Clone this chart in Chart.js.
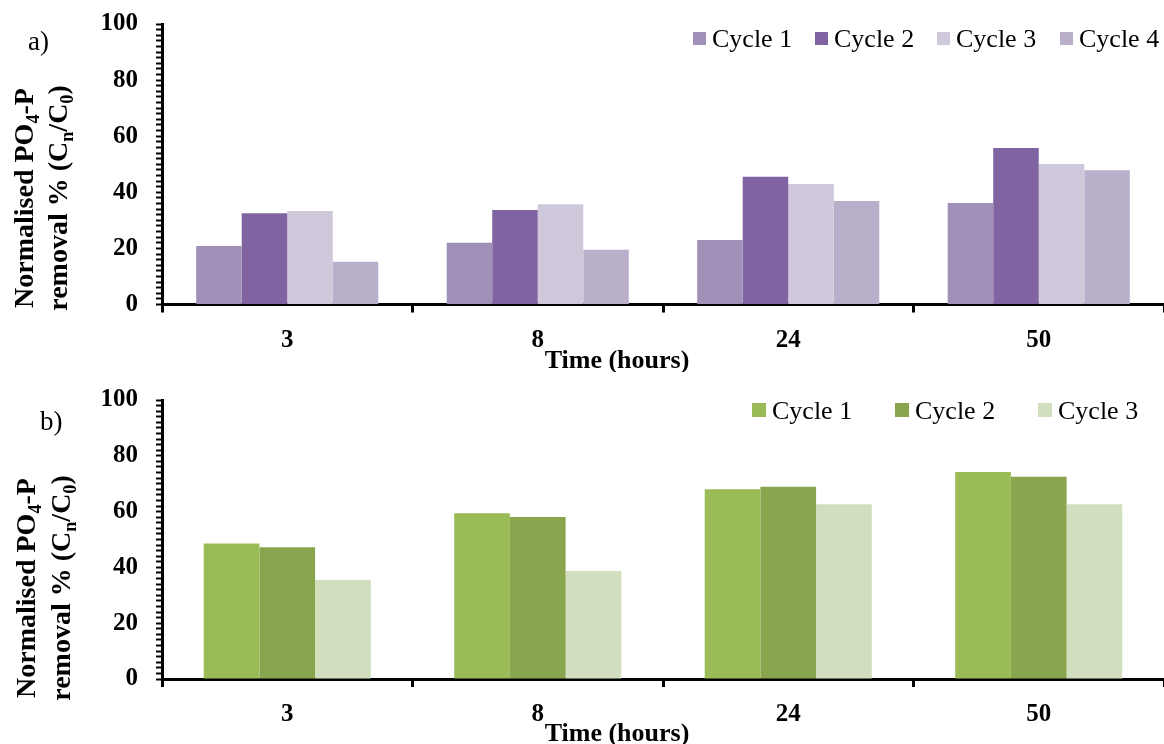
<!DOCTYPE html>
<html>
<head>
<meta charset="utf-8">
<script src="https://cdn.jsdelivr.net/npm/chart.js@4.4.1/dist/chart.umd.min.js"></script>
<style>
  html, body { margin: 0; padding: 0; background: #fff; }
  .panel { position: absolute; left: 0; width: 1164px; height: 372px; }
  #panelA { top: 0; }
  #panelB { top: 372px; }
</style>
</head>
<body>
<div class="panel" id="panelA"><canvas id="chartA" width="1164" height="372"></canvas></div>
<div class="panel" id="panelB"><canvas id="chartB" width="1164" height="372"></canvas></div>
<script>
// data
const hours = ["3", "8", "24", "50"];
const cycleLabelsA = ["Cycle 1", "Cycle 2", "Cycle 3", "Cycle 4"];
const cycleLabelsB = ["Cycle 1", "Cycle 2", "Cycle 3"];

const removalA1 = [20.9, 22.0, 23.0, 36.2];
const removalA2 = [32.5, 33.7, 45.5, 55.8];
const removalA3 = [33.3, 35.7, 43.0, 50.1];
const removalA4 = [15.2, 19.5, 36.9, 47.9];

const removalB1 = [48.6, 59.4, 68.0, 74.2];
const removalB2 = [47.2, 58.1, 68.9, 72.5];
const removalB3 = [35.5, 38.7, 62.6, 62.6];

const yMin = 0, yMax = 100, yMajor = 20, yMinor = 2;

const purples = ["#a08fb7", "#8064a2", "#cfc8db", "#b9afca"];
const greens = ["#9bbb59", "#89a54e", "#d2dfbf"];

const SERIF = '"Liberation Serif", "Times New Roman", serif';
Chart.defaults.font.family = SERIF;
Chart.defaults.color = "#000";

// draws text with subscript pieces, rotated for the y title
function richWidth(ctx, parts, size) {
  let w = 0;
  for (const p of parts) {
    ctx.font = "bold " + (p.sub ? size * 0.65 : size) + "px " + SERIF;
    w += ctx.measureText(p.t).width;
  }
  return w;
}
function drawRich(ctx, parts, size, x, y) {
  let cx = x - richWidth(ctx, parts, size) / 2;
  ctx.textAlign = "left";
  ctx.textBaseline = "alphabetic";
  for (const p of parts) {
    ctx.font = "bold " + (p.sub ? size * 0.65 : size) + "px " + SERIF;
    ctx.fillText(p.t, cx, p.sub ? y + size * 0.22 : y);
    cx += ctx.measureText(p.t).width;
  }
}

const titleLine1 = [{ t: "Normalised PO" }, { t: "4", sub: true }, { t: "-P" }];
const titleLine2 = [{ t: "removal % (C" }, { t: "n", sub: true }, { t: "/C" }, { t: "0", sub: true }, { t: ")" }];

const overlay = {
  id: "overlay",
  afterDraw(chart, args, o) {
    const ctx = chart.ctx;
    ctx.save();
    ctx.fillStyle = "#000";

    // panel letter
    ctx.font = "27px " + SERIF;
    ctx.textAlign = "left";
    ctx.textBaseline = "alphabetic";
    ctx.fillText(o.letter, o.letterX, o.letterY);

    // x title
    ctx.font = "bold 26px " + SERIF;
    ctx.textAlign = "center";
    ctx.fillText("Time (hours)", o.xTitleX, o.xTitleY);

    // y title
    ctx.save();
    ctx.translate(o.yLine1X, o.yTitleY);
    ctx.rotate(-Math.PI / 2);
    drawRich(ctx, titleLine1, 28, 0, 0);
    ctx.restore();
    ctx.save();
    ctx.translate(o.yLine2X, o.yTitleY);
    ctx.rotate(-Math.PI / 2);
    drawRich(ctx, titleLine2, 28, 0, 0);
    ctx.restore();

    // legend
    ctx.font = "26px " + SERIF;
    ctx.textAlign = "left";
    chart.data.datasets.forEach((ds, i) => {
      const x = o.legendX[i];
      ctx.fillStyle = ds.backgroundColor;
      ctx.fillRect(x, o.legendY, o.box, o.box);
      ctx.fillStyle = "#000";
      ctx.fillText(ds.label, x + o.box + 6, o.legendY + o.box + 2);
    });
    ctx.restore();
  }
};

function makeChart(id, labels, series, colors, catPct, plotBottom, o) {
  return new Chart(document.getElementById(id), {
    type: "bar",
    data: {
      labels: hours,
      datasets: series.map((d, i) => ({
        label: labels[i],
        data: d,
        backgroundColor: colors[i],
        borderWidth: 0
      }))
    },
    options: {
      responsive: false,
      devicePixelRatio: 1,
      animation: false,
      layout: { padding: { top: o.plotTop, right: 0, left: 0, bottom: 0 } },
      datasets: { bar: { categoryPercentage: catPct, barPercentage: 1 } },
      plugins: { legend: { display: false }, tooltip: { enabled: false }, overlay: o },
      scales: {
        x: {
          grid: { offset: true, drawOnChartArea: false, tickLength: 8, tickWidth: 3, tickColor: "#000" },
          border: { color: "#000", width: 3 },
          ticks: { font: { size: 25, weight: "bold" }, padding: o.xPad, color: "#000" },
          afterFit(scale) { scale.height = 372 - plotBottom; }
        },
        y: {
          min: yMin,
          max: yMax,
          grid: { drawOnChartArea: false, tickLength: 6, tickWidth: 2, tickColor: "#000" },
          border: { color: "#000", width: 3 },
          ticks: {
            stepSize: yMinor,
            autoSkip: false,
            padding: 18,
            font: { size: 25, weight: "bold" },
            color: "#000",
            callback: v => (v % yMajor === 0 ? v : "")
          },
          afterFit(scale) {
            scale.width = 162;
            scale.paddingTop = 0;
            scale.paddingBottom = 0;
          }
        }
      }
    },
    plugins: [overlay]
  });
}

makeChart("chartA", cycleLabelsA, [removalA1, removalA2, removalA3, removalA4], purples, 0.727, 304.5, {
  plotTop: 24, xPad: 13,
  letter: "a)", letterX: 28, letterY: 50,
  xTitleX: 617, xTitleY: 368,
  yLine1X: 33, yLine2X: 67, yTitleY: 198,
  legendX: [693, 815, 937, 1060], legendY: 32, box: 13
});

makeChart("chartB", cycleLabelsB, [removalB1, removalB2, removalB3], greens, 0.667, 307, {
  plotTop: 28, xPad: 13,
  letter: "b)", letterX: 40, letterY: 58,
  xTitleX: 617, xTitleY: 369,
  yLine1X: 35, yLine2X: 70, yTitleY: 216,
  legendX: [752, 895, 1038], legendY: 31, box: 14
});
</script>
</body>
</html>
